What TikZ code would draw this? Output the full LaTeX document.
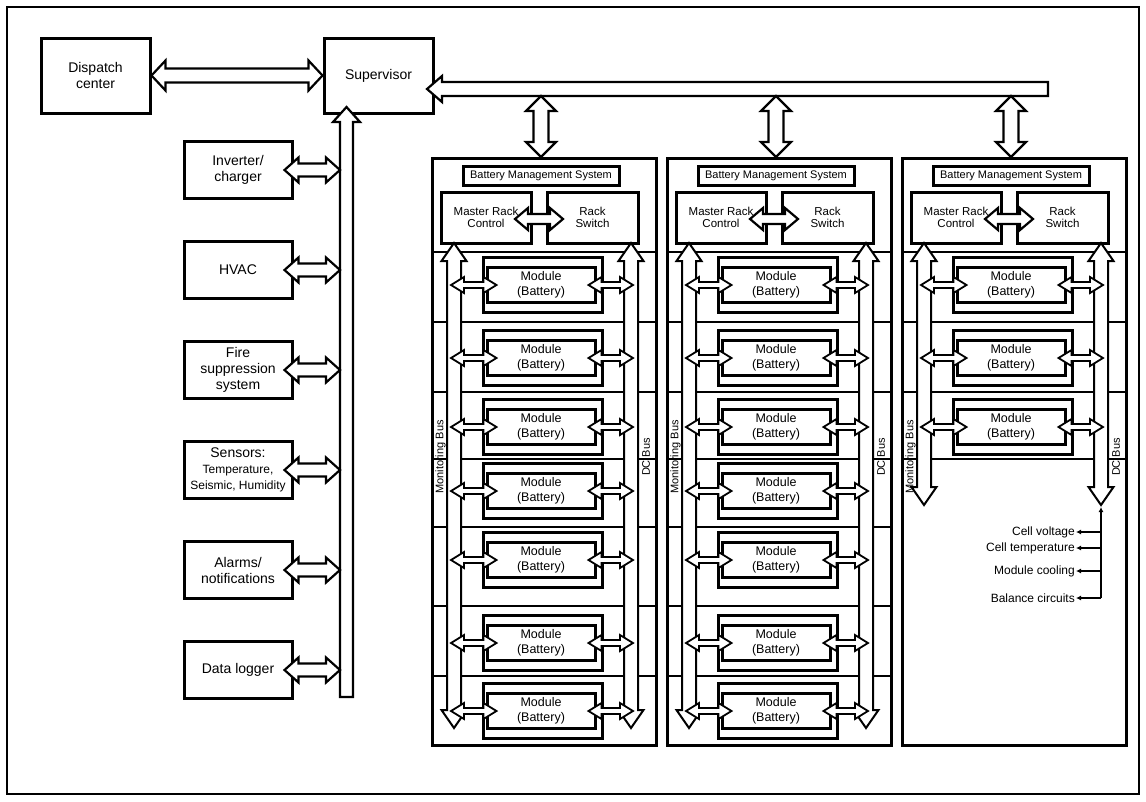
\documentclass[tikz,border=0pt]{standalone}
\usepackage{fontspec}
\setmainfont{Liberation Sans}
\usetikzlibrary{calc,arrows.meta}
\newcommand{\fsz}[2]{\fontsize{#1}{#2}\selectfont}
% wide outlined arrows: [opts]{from}{to}{shaft half}{head half}{head length}
\newcommand{\dblarr}[6][]{\filldraw[arr,#1] (#2) -- ($(#2)!#6!(#3)!#5!90:(#3)$) -- ($(#2)!#6!(#3)!#4!90:(#3)$) -- ($(#3)!#6!(#2)!#4!-90:(#2)$) -- ($(#3)!#6!(#2)!#5!-90:(#2)$) -- (#3) -- ($(#3)!#6!(#2)!#5!90:(#2)$) -- ($(#3)!#6!(#2)!#4!90:(#2)$) -- ($(#2)!#6!(#3)!#4!-90:(#3)$) -- ($(#2)!#6!(#3)!#5!-90:(#3)$) -- cycle;}
\newcommand{\sglarr}[6][]{\filldraw[arr,#1] (#2) -- ($(#2)!#6!(#3)!#5!90:(#3)$) -- ($(#2)!#6!(#3)!#4!90:(#3)$) -- ($(#3)!#4!-90:(#2)$) -- ($(#3)!#4!90:(#2)$) -- ($(#2)!#6!(#3)!#4!-90:(#3)$) -- ($(#2)!#6!(#3)!#5!-90:(#3)$) -- cycle;}
\tikzset{
  >={Latex[length=5pt,width=5pt]},
  box/.style={draw,line width=3pt,align=center,inner sep=1pt,font=\fsz{14}{16}},
  bms/.style={draw,line width=3pt,minimum width=156,minimum height=19,inner sep=0pt,font=\fsz{11}{13}},
  ctl/.style={draw,line width=3pt,minimum width=90,minimum height=51,align=center,inner sep=0pt,font=\fsz{11.5}{12.5}},
  modout/.style={draw,line width=3pt,minimum width=119,minimum height=55,inner sep=0pt},
  modin/.style={draw,line width=3pt,minimum width=108,minimum height=35,align=center,inner sep=0pt,font=\fsz{12.5}{15}},
  arr/.style={fill=white,draw,line width=2.2pt,line join=miter},
  rowline/.style={line width=2.5pt},
  bus/.style={rotate=90,font=\fsz{11}{13},inner sep=0pt},
  lbl/.style={anchor=east,font=\fsz{12}{14},inner sep=1pt},
}
\begin{document}
\begin{tikzpicture}[x=1pt,y=-1pt]
\useasboundingbox (0,0) rectangle (1146,801);
\draw[line width=1.2pt] (7,7) rectangle (1139,794);
% supervisor side
\node[box,minimum width=109,minimum height=75] (disp) at (95.5,75.5) {Dispatch\\center};
\node[box,minimum width=109,minimum height=75] (sup) at (378.5,75.5) {Supervisor};
\foreach \t [count=\i from 0] in {{Inverter/\\charger},HVAC,{Fire\\suppression\\system},{Sensors:\\{\fsz{12}{13}Temperature,}\\{\fsz{12}{13}Seismic, Humidity}},{Alarms/\\notifications},{Data logger}}
  \node[box,minimum width=108,minimum height=57] (op\i) at (238,{170+100*\i}) {\t};
\dblarr{disp.east}{sup.west}{7pt}{15pt}{14pt}
\coordinate (vbt) at (346.5,107); \coordinate (vbb) at (346.5,697);
\sglarr{vbt}{vbb}{6.5pt}{13.5pt}{15pt}
\foreach \i in {0,...,5}{
  \coordinate (opa\i) at ($(op\i.east)+(-9,0)$); \coordinate (opb\i) at (340,{170+100*\i});
  \dblarr{opa\i}{opb\i}{6.5pt}{12.5pt}{14pt}}
\coordinate (hbl) at (427,89); \coordinate (hbr) at (1048,89);
\sglarr{hbl}{hbr}{7pt}{13pt}{15pt}
% racks
\foreach \X/\n/\nm/\be in {432/1/7/728,667/2/7/728,902/3/3/505}{
  \node[draw,line width=3pt,minimum width=224,minimum height=587,inner sep=0pt] (rack\n) at ({\X+112},451.5) {};
  \coordinate (rt\n) at ({\X+109},96); \coordinate (rb\n) at ({\X+109},157);
  \dblarr{rt\n}{rb\n}{7.5pt}{15pt}{15pt}
  \node[bms] (bms\n) at ({\X+109},175.5) {Battery Management System};
  \node[ctl] (mrc\n) at ({\X+54},217.5) {Master Rack\\Control};
  \node[ctl,minimum width=91] (rs\n) at ({\X+160.5},217.5) {Rack\\Switch};
  \draw[rowline] (\X,252) -- ({\X+224},252);
  \foreach \y [count=\k] in {322,392,459,527,606,676}{\ifnum\k>\nm\else\draw[rowline] (\X,\y) -- ({\X+224},\y);\fi}
  \foreach \y [count=\k] in {285,358,427,491,560,643,711}{\ifnum\k>\nm\else
    \node[modout] (mo\n-\k) at ({\X+110.5},\y) {};
    \node[modin] (mi\n-\k) at ({\X+109},\y) {Module\\(Battery)};\fi}
  \node[bus] (mbus\n) at ({\X+8.5},457) {Monitoring Bus};
  \node[bus] (dcbus\n) at ({\X+214},457) {DC Bus};
  \coordinate (mbt\n) at ({\X+22},243); \coordinate (mbb\n) at ({\X+22},\be);
  \dblarr[line width=2pt]{mbt\n}{mbb\n}{7pt}{12.5pt}{18pt}
  \coordinate (dbt\n) at ({\X+199},243); \coordinate (dbb\n) at ({\X+199},\be);
  \dblarr[line width=2pt]{dbt\n}{dbb\n}{7pt}{12.5pt}{18pt}
  \foreach \y [count=\k] in {285,358,427,491,560,643,711}{\ifnum\k>\nm\else
    \coordinate (ml\n-\k) at ({\X+19},\y); \coordinate (mr\n-\k) at ($(mi\n-\k.west)+(11,0)$);
    \dblarr[line width=1.8pt]{ml\n-\k}{mr\n-\k}{3pt}{8pt}{13pt}
    \coordinate (nl\n-\k) at ($(mi\n-\k.east)+(-8,0)$); \coordinate (nr\n-\k) at ({\X+201},\y);
    \dblarr[line width=1.8pt]{nl\n-\k}{nr\n-\k}{3pt}{8pt}{13pt}\fi}
  \coordinate (ca\n) at ({\X+83},219); \coordinate (cb\n) at ({\X+131},219);
  \dblarr{ca\n}{cb\n}{5pt}{11pt}{13pt}
}
% cell signals
\coordinate (cst) at (1101,507); \coordinate (csb) at (1101,598);
\draw[line width=1.5pt,->] (csb) -- (cst);
\foreach \t/\y/\c in {Cell voltage/532/cv,Cell temperature/548/ct,Module cooling/571/mc,Balance circuits/598/bc}{
  \node[lbl] (\c) at (1076,\y) {\t};
  \coordinate (\c b) at (1101,\y);
  \draw[line width=1.5pt,->] (\c b) -- (\c.east);}
\end{tikzpicture}
\end{document}
